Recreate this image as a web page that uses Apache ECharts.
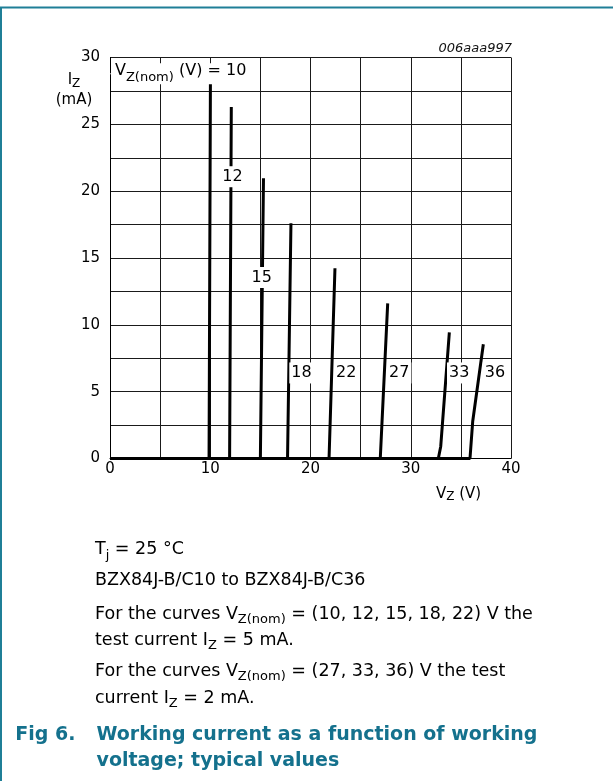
<!DOCTYPE html>
<html>
<head>
<meta charset="utf-8">
<script src="https://cdn.jsdelivr.net/npm/echarts@6/dist/echarts.min.js"></script>
<style>
html,body{margin:0;padding:0;background:#fff;}
#c{width:613px;height:781px;}
</style>
</head>
<body>
<div id="c"></div>
<script>
// ---- data (V_Z in volts, I_Z in mA) ----
const curveNames = ['10', '12', '15', '18', '22', '27', '33', '36'];
const curve10 = [[0, 0], [9.88, 0], [10.02, 28.8]];
const curve12 = [[0, 0], [11.93, 0], [12.1, 26.3]];
const curve15 = [[0, 0], [15.0, 0], [15.31, 20.96]];
const curve18 = [[0, 0], [17.71, 0], [18.05, 17.6]];
const curve22 = [[0, 0], [21.85, 0], [22.44, 14.23]];
const curve27 = [[0, 0], [26.96, 0], [27.7, 11.6]];
const curve33 = [[0, 0], [32.75, 0], [32.99, 0.9], [33.85, 9.44]];
const curve36 = [[0, 0], [35.91, 0], [36.18, 2.77], [37.24, 8.55]];
const curves = [curve10, curve12, curve15, curve18, curve22, curve27, curve33, curve36];

const labelTexts = ['12', '15', '18', '22', '27', '33', '36'];
const labelPoints = [[12.22, 21.08], [15.13, 13.54], [19.1, 6.4], [23.57, 6.4], [28.85, 6.4], [34.83, 6.4], [38.4, 6.4]];
const firstLabelPoint = [[0.05, 28.79]];

const xTickLabels = [0, 10, 20, 30, 40];
const yTickLabels = [0, 5, 10, 15, 20, 25, 30];

// ---- style ----
const FONT = "'DejaVu Sans', sans-serif";
const TEAL = '#14718d';

const chart = echarts.init(document.getElementById('c'), null, {renderer: 'canvas', width: 613, height: 781});

const lineSeries = curves.map((d, i) => ({
  type: 'line',
  name: 'VZ(nom) ' + curveNames[i] + ' V',
  data: d,
  symbol: 'none',
  clip: false,
  z: 3,
  lineStyle: {color: '#000', width: 3},
  emphasis: {disabled: true}
}));

const capRich = {
  n: {fontSize: 17.5, fontFamily: FONT, color: '#000', lineHeight: 26.7},
  s: {fontSize: 13, fontFamily: FONT, color: '#000', lineHeight: 26.7, verticalAlign: 'bottom', padding: [0, 0, 1.5, 0]}
};

function txt(x, y, text, rich, extra) {
  return {
    type: 'text',
    silent: true,
    z: 10,
    style: Object.assign({
      x: x, y: y, text: text, rich: rich,
      align: 'left', textAlign: 'left',
      verticalAlign: 'top', textVerticalAlign: 'top'
    }, extra || {})
  };
}

const option = {
  animation: false,
  backgroundColor: '#fff',
  grid: {left: 110, top: 57.5, width: 401, height: 401, containLabel: false},
  xAxis: {
    type: 'value', min: 0, max: 40, interval: 5,
    axisLine: {show: true, lineStyle: {color: '#000', width: 1}},
    axisTick: {show: false},
    splitLine: {show: true, lineStyle: {color: '#1a1a1a', width: 1}},
    axisLabel: {
      margin: 3, fontSize: 15, fontFamily: FONT, color: '#000',
      formatter: v => xTickLabels.indexOf(v) >= 0 ? String(v) : ''
    }
  },
  yAxis: {
    type: 'value', min: 0, max: 30, interval: 2.5,
    axisLine: {show: true, lineStyle: {color: '#000', width: 1}},
    axisTick: {show: false},
    splitLine: {show: true, lineStyle: {color: '#1a1a1a', width: 1}},
    axisLabel: {
      margin: 10, fontSize: 15, fontFamily: FONT, color: '#000',
      formatter: v => yTickLabels.indexOf(v) >= 0 ? String(v) : ''
    }
  },
  series: lineSeries.concat([
    {
      type: 'scatter', name: 'curve labels', data: labelPoints, symbolSize: 1, z: 8, silent: true,
      itemStyle: {color: '#fff', opacity: 1},
      emphasis: {disabled: true},
      label: {
        show: true, position: 'inside', fontSize: 16, fontFamily: FONT, color: '#000', opacity: 1,
        textBorderWidth: 0, backgroundColor: '#fff', padding: [3, 2, 2, 2],
        formatter: p => labelTexts[p.dataIndex]
      }
    },
    {
      type: 'scatter', name: 'nominal label', data: firstLabelPoint, symbolSize: 1, z: 8, silent: true,
      itemStyle: {color: '#fff', opacity: 1},
      emphasis: {disabled: true},
      label: {
        show: true, position: 'right', distance: 0, color: '#000', opacity: 1,
        textBorderWidth: 0, backgroundColor: '#fff', padding: [0, 4, 0, 4],
        formatter: '{n|V}{s|Z(nom)}{n| (V) = 10}',
        rich: {
          n: {fontSize: 16, fontFamily: FONT, color: '#000', verticalAlign: 'top'},
          s: {fontSize: 13, fontFamily: FONT, color: '#000', lineHeight: 21, verticalAlign: 'bottom'}
        }
      }
    }
  ]),
  graphic: {
    elements: [
      {type: 'line', silent: true, shape: {x1: 0, y1: 7.5, x2: 613, y2: 7.5}, style: {stroke: '#1f7f97', lineWidth: 2}},
      {type: 'line', silent: true, shape: {x1: 1, y1: 7, x2: 1, y2: 781}, style: {stroke: '#1f7f97', lineWidth: 2}},
      // chart id
      txt(512, 48.5, '006aaa997', null, {align: 'right', textAlign: 'right', verticalAlign: 'middle', textVerticalAlign: 'middle',
        fontSize: 13, fontFamily: FONT, fontStyle: 'italic', fill: '#111'}),
      // y axis title
      txt(74, 70.5, '{n|I}{s|Z}\n{n|(mA)}', {
        n: {fontSize: 15, fontFamily: FONT, color: '#000', lineHeight: 19.5},
        s: {fontSize: 12, fontFamily: FONT, color: '#000', lineHeight: 19.5, verticalAlign: 'bottom'}
      }, {align: 'center', textAlign: 'center'}),
      // x axis title
      txt(436, 485.5, '{n|V}{s|Z}{n| (V)}', {
        n: {fontSize: 15, fontFamily: FONT, color: '#000', lineHeight: 18},
        s: {fontSize: 12, fontFamily: FONT, color: '#000', lineHeight: 18, verticalAlign: 'bottom', padding: [0, 0, 1, 0]}
      }),
      // caption
      txt(95, 536.6, '{n|T}{s|j}{n| = 25 °C}', capRich),
      txt(95, 567.6, '{n|BZX84J-B/C10 to BZX84J-B/C36}', capRich),
      txt(95, 600.7, '{n|For the curves V}{s|Z(nom)}{n| = (10, 12, 15, 18, 22) V the}\n{n|test current I}{s|Z}{n| = 5 mA.}', capRich),
      txt(95, 658.4, '{n|For the curves V}{s|Z(nom)}{n| = (27, 33, 36) V the test}\n{n|current I}{s|Z}{n| = 2 mA.}', capRich),
      // figure title
      txt(15.3, 721.5, 'Fig 6.', null, {fontSize: 19, fontWeight: 'bold', fontFamily: FONT, fill: TEAL, lineHeight: 26.3}),
      txt(96.5, 721.5, 'Working current as a function of working\nvoltage; typical values', null,
        {fontSize: 19, fontWeight: 'bold', fontFamily: FONT, fill: TEAL, lineHeight: 26.3})
    ]
  }
};

chart.setOption(option);
</script>
</body>
</html>
